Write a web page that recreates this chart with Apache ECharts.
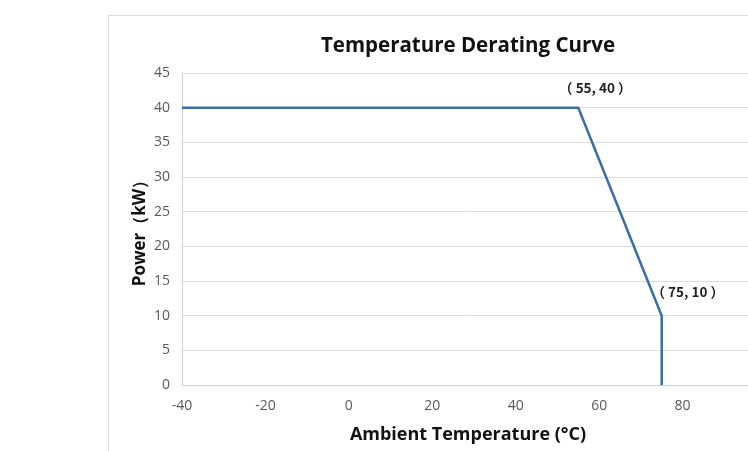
<!DOCTYPE html>
<html>
<head>
<meta charset="utf-8">
<script src="https://cdn.jsdelivr.net/npm/echarts@6/dist/echarts.min.js"></script>
<style>
  html, body { margin: 0; padding: 0; background: #fff; }
  #chart { width: 748px; height: 451px; }
</style>
</head>
<body>
<div id="chart"></div>
<script>
// curve vertices (temperature °C, power kW)
var temps = [-40, 55, 75, 75];
var powers = [40, 40, 10, 0];
// corner points that get a coordinate label
var markTemps = [55, 75];
var markPowers = [40, 10];
var markText = ['（ 55, 40 ）', '（ 75, 10 ）'];
var markOffset = [[17, -20], [26, -24]];

var chart = echarts.init(document.getElementById('chart'));

var pts = temps.map(function (t, i) { return [t, powers[i]]; });

var marks = markTemps.map(function (t, i) {
  return {
    coord: [t, markPowers[i]],
    label: {
      show: true,
      formatter: markText[i],
      position: 'inside',
      offset: markOffset[i],
      fontFamily: 'Noto Sans CJK SC',
      fontWeight: 'bold',
      fontSize: 13.5,
      color: '#222'
    }
  };
});

var tickFont = { color: '#595959', fontSize: 14, fontFamily: 'Open Sans' };

chart.setOption({
  backgroundColor: '#fff',
  animation: false,
  graphic: [{
    type: 'rect',
    shape: { x: 108.5, y: 15.5, width: 700, height: 500 },
    style: { fill: 'none', stroke: '#d9d9d9', lineWidth: 1 }
  }],
  title: {
    text: 'Temperature Derating Curve',
    left: 463,
    top: 31,
    textAlign: 'center',
    textStyle: { fontFamily: 'Open Sans', fontWeight: 'bold', fontSize: 20.5, color: '#111' }
  },
  grid: { left: 182, top: 73, width: 584, height: 312, outerBoundsMode: 'none' },
  xAxis: {
    type: 'value',
    min: -40, max: 100, interval: 20,
    name: 'Ambient Temperature (°C)',
    nameLocation: 'middle',
    nameGap: 41,
    nameMoveOverlap: false,
    nameTextStyle: { fontFamily: 'Open Sans', fontWeight: 'bold', fontSize: 18, color: '#111', padding: [0, 12, 0, 0] },
    axisLine: { onZero: false, lineStyle: { color: '#d0d0d0' } },
    axisTick: { show: false },
    axisLabel: Object.assign({ margin: 14 }, tickFont),
    splitLine: { show: false }
  },
  yAxis: {
    type: 'value',
    min: 0, max: 45, interval: 5,
    name: 'Power（kW）',
    nameLocation: 'middle',
    nameGap: 33,
    nameMoveOverlap: false,
    nameTextStyle: { fontFamily: 'Open Sans', fontWeight: 'bold', fontSize: 17, color: '#111' },
    axisLine: { show: true, onZero: false, lineStyle: { color: '#d0d0d0' } },
    axisTick: { show: false },
    axisLabel: Object.assign({ margin: 12 }, tickFont),
    splitLine: { lineStyle: { color: '#dedede' } }
  },
  series: [{
    type: 'line',
    data: pts,
    symbol: 'none',
    lineStyle: { color: '#3a6ea5', width: 2.5 },
    markPoint: {
      symbol: 'circle',
      symbolSize: 0,
      silent: true,
      data: marks
    },
    z: 5
  }]
});
</script>
</body>
</html>
